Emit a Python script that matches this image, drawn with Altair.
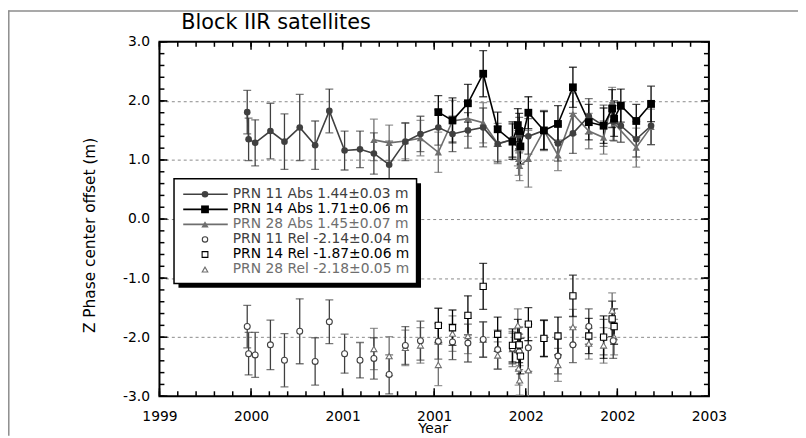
import altair as alt
import pandas as pd

# ---------------- data (decimal year, Z offset [m], 1-sigma [m]) ----------------
p11_abs_t = [1999.875, 1999.884, 1999.927, 2000.027, 2000.119, 2000.219, 2000.320, 2000.413,
             2000.513, 2000.614, 2000.705, 2000.805, 2000.911, 2001.010, 2001.127, 2001.220,
             2001.321, 2001.421, 2001.516, 2001.613, 2001.657, 2001.717, 2001.819, 2001.911,
             2002.009, 2002.113, 2002.210, 2002.273, 2002.323, 2002.424, 2002.521]
p11_abs_v = [1.81, 1.35, 1.29, 1.49, 1.31, 1.55, 1.25, 1.83, 1.16, 1.18, 1.11, 0.92, 1.31, 1.44,
             1.55, 1.44, 1.50, 1.55, 1.27, 1.35, 1.42, 1.40, 1.50, 1.28, 1.45, 1.74, 1.58, 1.65,
             1.58, 1.35, 1.58]
p11_abs_e = [0.37, 0.36, 0.39, 0.47, 0.47, 0.56, 0.41, 0.37, 0.33, 0.31, 0.35, 0.40, 0.32, 0.30,
             0.30, 0.30, 0.30, 0.33, 0.30, 0.30, 0.30, 0.30, 0.33, 0.30, 0.34, 0.30, 0.35, 0.32,
             0.28, 0.30, 0.32]

p14_abs_t = [2001.127, 2001.220, 2001.321, 2001.421, 2001.516, 2001.613, 2001.648, 2001.657,
             2001.665, 2001.717, 2001.819, 2001.911, 2002.009, 2002.113, 2002.210, 2002.266,
             2002.279, 2002.323, 2002.424, 2002.521]
p14_abs_v = [1.81, 1.67, 1.96, 2.46, 1.52, 1.31, 1.59, 1.49, 1.23, 1.80, 1.50, 1.61, 2.23, 1.64,
             1.58, 1.87, 1.70, 1.92, 1.66, 1.95]
p14_abs_e = [0.28, 0.38, 0.32, 0.39, 0.29, 0.30, 0.28, 0.30, 0.30, 0.27, 0.32, 0.31, 0.34, 0.30,
             0.30, 0.32, 0.30, 0.28, 0.28, 0.30]

p28_abs_t = [2000.705, 2000.805, 2000.911, 2001.010, 2001.127, 2001.220, 2001.321, 2001.421,
             2001.516, 2001.613, 2001.648, 2001.653, 2001.660, 2001.717, 2001.819, 2001.911,
             2002.009, 2002.113, 2002.210, 2002.266, 2002.279, 2002.424, 2002.521]
p28_abs_v = [1.34, 1.29, 1.32, 1.37, 1.13, 1.66, 1.70, 1.63, 1.28, 1.34, 1.20, 1.02, 0.90, 1.02,
             1.50, 1.08, 1.78, 1.49, 1.38, 1.98, 1.62, 1.21, 1.56]
p28_abs_e = [0.35, 0.30, 0.30, 0.30, 0.34, 0.35, 0.30, 0.34, 0.34, 0.30, 0.30, 0.28, 0.25, 0.48,
             0.34, 0.26, 0.35, 0.30, 0.28, 0.25, 0.30, 0.33, 0.30]

p11_rel_t = [1999.875, 1999.884, 1999.927, 2000.027, 2000.119, 2000.219, 2000.320, 2000.413,
             2000.513, 2000.614, 2000.705, 2000.805, 2000.911, 2001.010, 2001.127, 2001.220,
             2001.321, 2001.421, 2001.516, 2001.613, 2001.657, 2001.717, 2001.819, 2001.911,
             2002.009, 2002.113, 2002.210, 2002.273]
p11_rel_v = [-1.82, -2.28, -2.30, -2.13, -2.39, -1.90, -2.41, -1.74, -2.28, -2.39, -2.36, -2.63,
             -2.14, -2.06, -2.07, -2.08, -2.10, -2.04, -2.21, -2.19, -2.25, -2.18, -2.02, -2.32,
             -2.13, -1.82, -2.00, -2.06]
p11_rel_e = [0.36, 0.36, 0.38, 0.42, 0.45, 0.55, 0.40, 0.37, 0.33, 0.30, 0.35, 0.33, 0.32, 0.33,
             0.30, 0.30, 0.32, 0.30, 0.33, 0.26, 0.30, 0.40, 0.31, 0.30, 0.30, 0.30, 0.30, 0.30]

p14_rel_t = [2001.127, 2001.220, 2001.321, 2001.421, 2001.516, 2001.613, 2001.648, 2001.657,
             2001.665, 2001.717, 2001.819, 2001.911, 2002.009, 2002.113, 2002.210, 2002.266,
             2002.279]
p14_rel_v = [-1.80, -1.84, -1.63, -1.14, -1.95, -2.14, -1.98, -2.13, -2.32, -1.78, -2.02, -1.98,
             -1.30, -1.98, -2.00, -1.69, -1.82]
p14_rel_e = [0.29, 0.30, 0.33, 0.39, 0.29, 0.28, 0.28, 0.30, 0.30, 0.28, 0.31, 0.32, 0.35, 0.30,
             0.36, 0.30, 0.30]

p28_rel_t = [2000.705, 2000.805, 2000.911, 2001.010, 2001.127, 2001.220, 2001.321, 2001.421,
             2001.516, 2001.613, 2001.648, 2001.653, 2001.660, 2001.717, 2001.819, 2001.911,
             2002.009, 2002.113, 2002.210, 2002.266, 2002.279]
p28_rel_v = [-2.20, -2.32, -2.18, -2.14, -2.47, -1.94, -1.98, -2.04, -2.31, -2.20, -1.80, -2.53,
             -2.73, -2.56, -2.02, -2.47, -1.83, -2.11, -2.14, -1.55, -2.00]
p28_rel_e = [0.35, 0.33, 0.30, 0.30, 0.35, 0.30, 0.30, 0.30, 0.23, 0.30, 0.28, 0.28, 0.25, 0.50,
             0.30, 0.28, 0.30, 0.26, 0.30, 0.30, 0.30]

legend_labels = ["PRN 11 Abs 1.44\u00b10.03 m", "PRN 14 Abs 1.71\u00b10.06 m",
                 "PRN 28 Abs 1.45\u00b10.07 m", "PRN 11 Rel -2.14\u00b10.04 m",
                 "PRN 14 Rel -1.87\u00b10.06 m", "PRN 28 Rel -2.18\u00b10.05 m"]

x_major = [1999.3, 1999.9, 2000.5, 2001.1, 2001.7, 2002.3, 2002.9]
x_tick_labels = ["1999", "2000", "2001", "2001", "2002", "2002", "2003"]
y_major = [-3, -2, -1, 0, 1, 2, 3]
y_tick_labels = ["-3.0", "-2.0", "-1.0", "0.0", "1.0", "2.0", "3.0"]
y_grid = [-2, -1, 0, 1, 2]

# ---------------- styling / layout ----------------
FONT = "DejaVu Sans"
C11, C14, C28 = "#404040", "#000000", "#6e6e6e"
W, H = 555, 358
PAD_L, PAD_T = 153, 32
x_minor = [round(1999.3 + 0.12 * i, 2) for i in range(31)]
y_minor = [round(-3 + 0.2 * i, 2) for i in range(31)]

xs = alt.Scale(domain=[1999.3, 2002.9], nice=False, zero=False)
ys = alt.Scale(domain=[-3.0, 3.0], nice=False, zero=False)


def frame(t, v, e):
    return pd.DataFrame({"t": t, "v": v,
                         "lo": [a - b for a, b in zip(v, e)],
                         "hi": [a + b for a, b in zip(v, e)]})


series = [
    dict(df=frame(p28_abs_t, p28_abs_v, p28_abs_e), color=C28, shape="triangle-up", filled=True, size=55, line=True),
    dict(df=frame(p11_abs_t, p11_abs_v, p11_abs_e), color=C11, shape="circle", filled=True, size=45, line=True),
    dict(df=frame(p14_abs_t, p14_abs_v, p14_abs_e), color=C14, shape="square", filled=True, size=62, line=True),
    dict(df=frame(p28_rel_t, p28_rel_v, p28_rel_e), color=C28, shape="triangle-up", filled=False, size=38, line=False),
    dict(df=frame(p11_rel_t, p11_rel_v, p11_rel_e), color=C11, shape="circle", filled=False, size=36, line=False),
    dict(df=frame(p14_rel_t, p14_rel_v, p14_rel_e), color=C14, shape="square", filled=False, size=40, line=False),
]

X = alt.X("t:Q", scale=xs, axis=None)

bars, lines, points = [], [], []
for s in series:
    b = alt.Chart(s["df"])
    bars.append(b.mark_rule(color=s["color"], strokeWidth=1.3, clip=True).encode(
        x=X, y=alt.Y("lo:Q", scale=ys, axis=None), y2="hi:Q"))
    for f in ("lo", "hi"):
        bars.append(b.mark_tick(color=s["color"], orient="horizontal", size=8, thickness=1.3, clip=True).encode(
            x=X, y=alt.Y(f + ":Q", scale=ys, axis=None)))
    if s["line"]:
        lines.append(b.mark_line(color=s["color"], strokeWidth=1.6).encode(
            x=X, y=alt.Y("v:Q", scale=ys, axis=None), order="t:Q"))
    if s["filled"]:
        pm = b.mark_point(shape=s["shape"], filled=True, size=s["size"], color=s["color"], opacity=1)
    else:
        pm = b.mark_point(shape=s["shape"], filled=False, size=s["size"], stroke=s["color"],
                          fill="white", fillOpacity=1, strokeWidth=1.1, opacity=1)
    points.append(pm.encode(x=X, y=alt.Y("v:Q", scale=ys, axis=None)))

# ---------------- axes: labels + dotted grid ----------------
anchor = pd.DataFrame({"t": [2000.0], "v": [0.0]})


def ylayer(axis):
    return alt.Chart(anchor).mark_point(opacity=0).encode(y=alt.Y("v:Q", scale=ys, axis=axis))


def xlayer(axis):
    return alt.Chart(anchor).mark_point(opacity=0).encode(x=alt.X("t:Q", scale=xs, axis=axis))


ylab_expr = "[" + ",".join("'%s'" % s for s in y_tick_labels) + "][round(datum.value) + 3]"
xlab_expr = "[" + ",".join("'%s'" % s for s in x_tick_labels) + "][round((datum.value - 1999.3) / 0.6)]"

axes = [
    ylayer(alt.Axis(orient="left", values=y_grid, grid=True, gridDash=[3, 3], gridColor="#8a8a8a",
                    gridWidth=1, ticks=False, labels=False, domain=False, title=None, zindex=0)),
    ylayer(alt.Axis(orient="left", values=y_major, labelExpr=ylab_expr, ticks=False, tickSize=0,
                    domain=False, grid=False, labelFont=FONT, labelFontSize=14, labelColor="black",
                    labelPadding=10, labelBaseline="middle",
                    title="Z Phase center offset (m)", titleFont=FONT, titleFontSize=15.5,
                    titleFontWeight="normal", titleColor="black", titleAngle=270,
                    titleX=-71, titleY=195, titleAlign="center", titleBaseline="middle")),
    xlayer(alt.Axis(orient="bottom", values=x_major, labelExpr=xlab_expr, ticks=False, tickSize=0,
                    domain=False, grid=False, labelFont=FONT, labelFontSize=14, labelColor="black",
                    labelPadding=24, labelBaseline="alphabetic", labelFlush=False,
                    title="Year", titleFont=FONT, titleFontSize=14, titleFontWeight="normal",
                    titleColor="black", titleX=276, titleY=36.5, titleAlign="center",
                    titleBaseline="alphabetic")),
]

# ---------------- inward tick marks on all four sides ----------------
ymaj_df = pd.DataFrame({"v": y_major})
ymin_df = pd.DataFrame({"v": y_minor})
xmaj_df = pd.DataFrame({"t": x_major})
xmin_df = pd.DataFrame({"t": x_minor})
MAJ, MIN = 8, 5
TW = 1.5
ticks = []
for df, ln in ((ymaj_df, MAJ), (ymin_df, MIN)):
    Yt = alt.Y("v:Q", scale=ys, axis=None)
    ticks.append(alt.Chart(df).mark_rule(color="black", strokeWidth=TW).encode(
        y=Yt, x=alt.value(0), x2=alt.value(ln)))
    ticks.append(alt.Chart(df).mark_rule(color="black", strokeWidth=TW).encode(
        y=Yt, x=alt.value(W - ln), x2=alt.value(W)))
for df, ln in ((xmaj_df, MAJ), (xmin_df, MIN)):
    Xt = alt.X("t:Q", scale=xs, axis=None)
    ticks.append(alt.Chart(df).mark_rule(color="black", strokeWidth=TW).encode(
        x=Xt, y=alt.value(0), y2=alt.value(ln)))
    ticks.append(alt.Chart(df).mark_rule(color="black", strokeWidth=TW).encode(
        x=Xt, y=alt.value(H - ln), y2=alt.value(H)))

# ---------------- legend box (manual, with drop shadow) ----------------
one = pd.DataFrame({"a": [0]})
LX0, LX1, LY0, LY1 = 14.7, 259.7, 138.3, 244.0
SH = 4.5
LROW0, LDY = 154.0, 15.2
leg = [
    alt.Chart(one).mark_rect(color="black").encode(
        x=alt.value(LX0 + SH), x2=alt.value(LX1 + SH), y=alt.value(LY0 + SH), y2=alt.value(LY1 + SH)),
    alt.Chart(one).mark_rect(fill="white", stroke="black", strokeWidth=1.5).encode(
        x=alt.value(LX0), x2=alt.value(LX1), y=alt.value(LY0), y2=alt.value(LY1)),
]
leg_colors = [C11, C14, C28, C11, C14, C28]
leg_shapes = ["circle", "square", "triangle-up", "circle", "square", "triangle-up"]
for i, lab in enumerate(legend_labels):
    yy = LROW0 + i * LDY
    col = leg_colors[i]
    if i < 3:
        leg.append(alt.Chart(one).mark_rule(color=col, strokeWidth=1.6).encode(
            x=alt.value(24), x2=alt.value(69), y=alt.value(yy)))
        leg.append(alt.Chart(one).mark_point(shape=leg_shapes[i], filled=True, color=col, opacity=1,
                                             size=[45, 62, 55][i]).encode(x=alt.value(46), y=alt.value(yy)))
    else:
        leg.append(alt.Chart(one).mark_point(shape=leg_shapes[i], filled=False, stroke=col, fill="white",
                                             fillOpacity=1, strokeWidth=1.1, opacity=1,
                                             size=[30, 34, 32][i - 3]).encode(x=alt.value(46), y=alt.value(yy)))
    leg.append(alt.Chart(one).mark_text(text=lab, align="left", baseline="middle", font=FONT,
                                        fontSize=14, color=col).encode(x=alt.value(74), y=alt.value(yy)))

# title and outer figure frame (top and left edges)
deco = [
    alt.Chart(one).mark_text(text="Block IIR satellites", align="left", baseline="alphabetic",
                             font=FONT, fontSize=21, color="black").encode(
        x=alt.value(22), y=alt.value(-12.5)),
    alt.Chart(one).mark_rule(color="#8c8c8c", strokeWidth=1.5).encode(
        x=alt.value(-PAD_L + 0.5), x2=alt.value(W + 90), y=alt.value(-PAD_T + 0.8)),
    alt.Chart(one).mark_rule(color="#8c8c8c", strokeWidth=1.5).encode(
        x=alt.value(-PAD_L + 0.8), y=alt.value(-PAD_T), y2=alt.value(H + 40)),
]

chart = alt.layer(*axes, *bars, *lines, *points, *ticks, *leg, *deco).resolve_axis(
    x="independent", y="independent"
).properties(
    width=W, height=H,
    autosize=alt.AutoSizeParams(type="none"),
    padding={"left": PAD_L, "top": PAD_T, "right": 90, "bottom": 40},
).configure_view(stroke="black", strokeWidth=2)

chart.save("out.html", embed_options={"renderer": "svg", "actions": False})
